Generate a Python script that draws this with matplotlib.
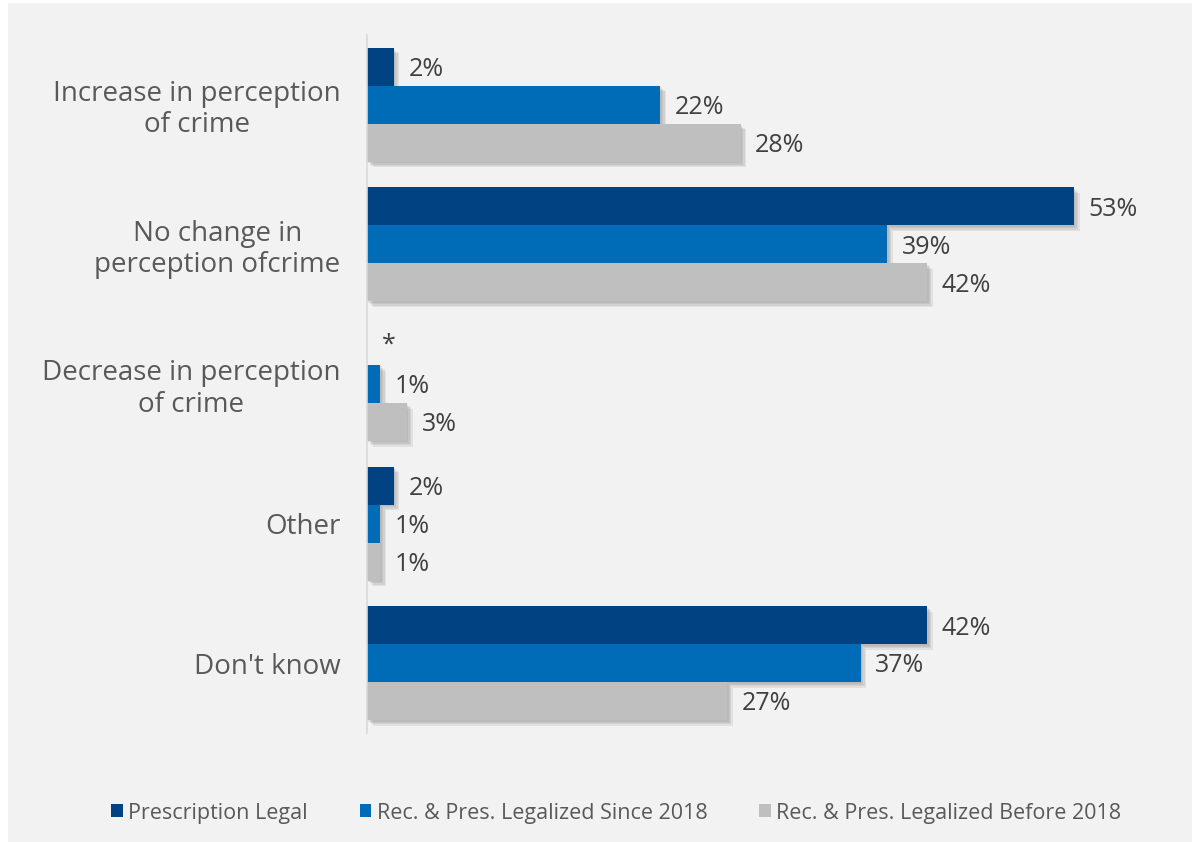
import matplotlib
matplotlib.use("Agg")
import matplotlib.pyplot as plt
import matplotlib.patheffects as pe
from matplotlib.patches import Rectangle, Patch
import numpy as np

categories = ["Increase in perception\nof crime", "No change in\nperception ofcrime",
              "Decrease in perception\nof crime", "Other", "Don't know"]
series_names = ["Prescription Legal", "Rec. & Pres. Legalized Since 2018",
                "Rec. & Pres. Legalized Before 2018"]
prescription = [2, 53, 0, 2, 42]
since_2018 = [22, 39, 1, 1, 37]
before_2018 = [28, 42, 3, 1, 27]
labels_prescription = ["2%", "53%", "*", "2%", "42%"]
labels_since = ["22%", "39%", "1%", "1%", "37%"]
labels_before = ["28%", "42%", "3%", "1%", "27%"]

colors = ["#004282", "#006cb7", "#bfbfbf"]
bg = "#f2f2f2"
plt.rcParams['font.family'] = ['Open Sans', 'DejaVu Sans']

fig = plt.figure(figsize=(11.92, 8.42), dpi=100, facecolor="white")
fig.patches.append(Rectangle((8/1192, 0), 1, 1 - 3/842, transform=fig.transFigure,
                             facecolor=bg, edgecolor="none", zorder=-10))
ax = fig.add_axes([367/1192, 1 - 733/842, (1170-367)/1192, (733-35)/842])
ax.set_facecolor(bg)
ax.patch.set_alpha(0)

y = np.arange(len(categories))
h = 0.272
shadow = [pe.SimplePatchShadow(offset=(o, -o), shadow_rgbFace="#707070", alpha=0.13)
          for o in (1, 2, 3, 4)] + [pe.Normal()]
all_vals = [prescription, since_2018, before_2018]
all_labels = [labels_prescription, labels_since, labels_before]
for i, (vals, labs) in enumerate(zip(all_vals, all_labels)):
    pos = y + (i - 1) * h
    bars = ax.barh(pos, vals, height=h, color=colors[i], zorder=2)
    for b in bars:
        b.set_path_effects(shadow)
    for p, v, l in zip(pos, vals, labs):
        ax.text(v + 1.1, p + (-0.01 if l == "*" else 0.02), l, va="center", ha="left",
                fontsize=18, color="#404040")

ax.set_ylim(4.5, -0.5)
ax.set_xlim(0, (1170-367)/13.34)
ax.set_yticks(y)
ax.set_yticklabels(categories, fontsize=20, color="#595959", multialignment="center",
                   linespacing=1.15)
ax.tick_params(axis="y", length=0, pad=19)
ax.set_xticks([])
for s in ["top", "right", "bottom"]:
    ax.spines[s].set_visible(False)
ax.spines["left"].set_color("#d9d9d9")
ax.spines["left"].set_linewidth(1.2)

handles = [Patch(facecolor=c, edgecolor="none") for c in colors]
leg = fig.legend(handles, series_names, loc="center", bbox_to_anchor=(0.517, 1 - 813/842),
                 ncol=3, frameon=False, fontsize=15.5, handlelength=0.55, handleheight=0.55,
                 handletextpad=0.25, columnspacing=2.4, labelcolor="#595959")
fig.savefig("out.png", dpi=100, facecolor=fig.get_facecolor())
